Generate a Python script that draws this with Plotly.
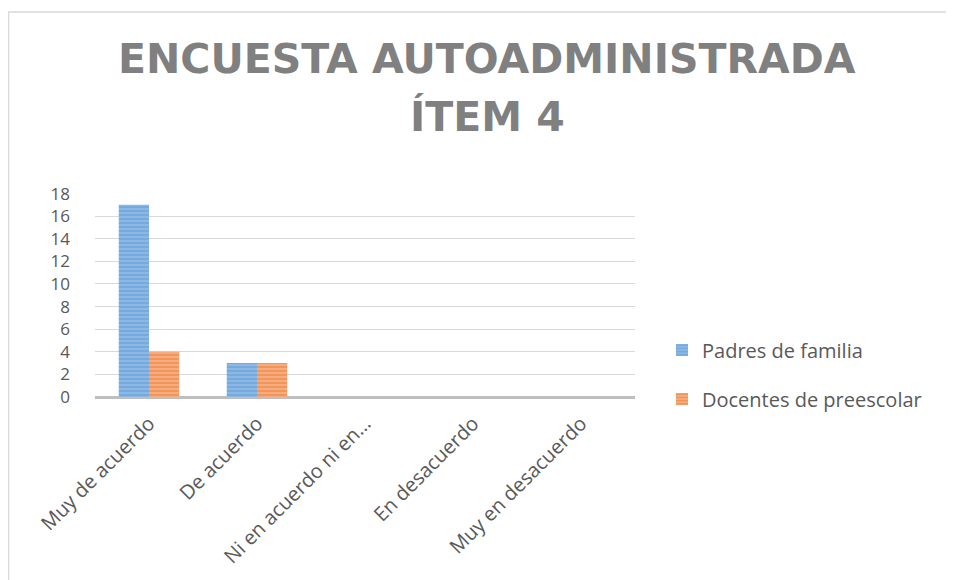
import plotly.graph_objects as go

categories = ["Muy de acuerdo", "De acuerdo", "Ni en acuerdo ni en…", "En desacuerdo", "Muy en desacuerdo"]
padres = [17, 3, 0, 0, 0]
docentes = [4, 3, 0, 0, 0]
series_names = ["Padres de familia", "Docentes de preescolar"]
y_ticks = [0, 2, 4, 6, 8, 10, 12, 14, 16, 18]
title_lines = ["ENCUESTA AUTOADMINISTRADA", "ÍTEM 4"]

fig = go.Figure()
fig.add_trace(go.Bar(
    x=categories, y=padres, name=series_names[0], legendgroup="a",
    marker=dict(color="#8db8e4", line=dict(width=0),
                pattern=dict(shape="-", fgcolor="#5b9bd5", size=4, solidity=0.5)),
))
fig.add_trace(go.Bar(
    x=categories, y=docentes, name=series_names[1], legendgroup="b",
    marker=dict(color="#f5ac80", line=dict(width=0),
                pattern=dict(shape="-", fgcolor="#ed7d31", size=4, solidity=0.5)),
))

# page body has an 8px margin; figure coordinates are offset accordingly
L, T, R, B = 87, 185, 627, 389
W, H = 954, 580
PH = B - T
PW = R - L

def px_y(y):
    return (B - y) / PH

def px_x(x):
    return (x - L) / PW

fig.update_layout(
    width=W, height=H,
    margin=dict(l=L, r=W - R, t=T, b=H - B, autoexpand=False),
    paper_bgcolor="white", plot_bgcolor="white",
    bargap=0.44, bargroupgap=0,
    font=dict(family="Open Sans", color="#595959", size=18),
    showlegend=True,
    legend=dict(x=1.05, y=0.11, xanchor="left", yanchor="middle",
                traceorder="grouped", tracegroupgap=20,
                font=dict(family="Open Sans", size=20, color="#595959"),
                bgcolor="rgba(0,0,0,0)"),
    xaxis=dict(tickangle=-45, showgrid=False, showline=False, ticks="",
               ticklabelstandoff=10,
               tickfont=dict(size=20, color="#595959"), fixedrange=True),
    yaxis=dict(range=[0, 18.05], tickvals=y_ticks, showgrid=True, gridcolor="#d9d9d9",
               gridwidth=1, zeroline=True, zerolinecolor="#bfbfbf", zerolinewidth=3,
               showline=False, ticks="", ticklabelstandoff=24,
               tickfont=dict(size=17, color="#595959")),
    annotations=[
        dict(text="<b>%s</b>" % title_lines[0], xref="paper", yref="paper",
             x=px_x(479), y=px_y(51), xanchor="center", yanchor="middle",
             showarrow=False, font=dict(family="DejaVu Sans", size=41, color="#808080")),
        dict(text="<b>%s</b>" % title_lines[1], xref="paper", yref="paper",
             x=px_x(479), y=px_y(109), xanchor="center", yanchor="middle",
             showarrow=False, font=dict(family="DejaVu Sans", size=41, color="#808080")),
    ],
    shapes=[dict(type="rect", xref="paper", yref="paper",
                 x0=px_x(0.5), x1=px_x(W + 20),
                 y0=px_y(H + 20), y1=px_y(4),
                 line=dict(color="#d9d9d9", width=1.5), fillcolor="rgba(0,0,0,0)")],
)

fig.write_html("out.html")
